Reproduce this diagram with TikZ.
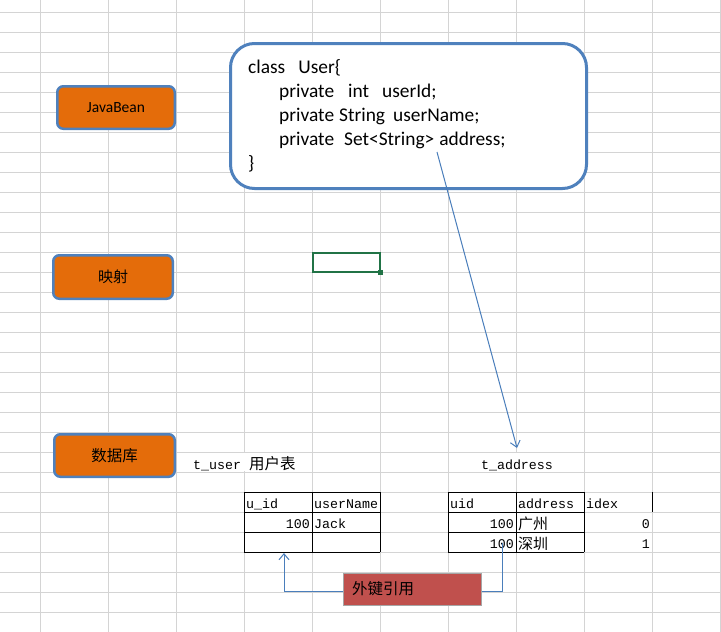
\documentclass[tikz,border=0pt]{standalone}
\usepackage{fontspec}
\setmainfont{Carlito}
\newfontfamily\cjk{Noto Sans CJK SC}
\newfontfamily\mono{Liberation Mono}
\usetikzlibrary{arrows.meta}
\definecolor{gridc}{HTML}{D4D4D4}
\definecolor{orng}{HTML}{E46C0A}
\definecolor{bblue}{HTML}{4F81BD}
\definecolor{lblue}{HTML}{4A7EBB}
\definecolor{redb}{HTML}{C0504D}
\definecolor{selg}{HTML}{217346}
\definecolor{fkgray}{HTML}{A6A6A6}
\begin{document}
\begin{tikzpicture}[x=1pt,y=-1pt,
  bean/.style={draw=bblue, line width=2.5pt, fill=orng, rounded corners=6pt, inner sep=0pt},
  classbox/.style={draw=bblue, line width=3pt, fill=white, rounded corners=24pt, inner sep=0pt, minimum width=356pt, minimum height=145pt},
  codeline/.style={anchor=base west, inner sep=0pt, font=\fontsize{19.4}{22}\selectfont},
  cell/.style={inner sep=0pt, font=\mono\fontsize{13.3}{15}\selectfont},
  cjkcell/.style={inner sep=0pt, font=\cjk\fontsize{15}{17}\selectfont},
  tbl/.style={black, line width=1pt},
  conn/.style={lblue, line width=1pt},
  tip/.style={-{Straight Barb[length=6pt,width=10pt,line width=1pt]}}
]
\useasboundingbox (0,0) rectangle (721,632);
\fill[white] (0,0) rectangle (721,632);
% spreadsheet grid
\foreach \y in {12,32,...,612} \draw[gridc,line width=1pt] (0,\y) -- (721,\y);
\foreach \x in {40,108,...,720} \draw[gridc,line width=1pt] (\x,0) -- (\x,632);
% grid lines hidden by overflowing label text
\draw[white,line width=1.6pt] (244,453) -- (244,471);
\draw[white,line width=1.6pt] (516,453) -- (516,471);

% selected cell
\draw[selg,line width=2pt] (313,253) rectangle (380,272);
\fill[selg] (377.5,269.5) rectangle (382.5,274.5);

% left boxes
\node[bean, minimum width=117.5pt, minimum height=42.5pt, font=\fontsize{15.5}{17}\selectfont] (jb) at (116,107.5) {JavaBean};
\node[bean, minimum width=119.5pt, minimum height=43.5pt, font=\cjk\fontsize{15}{17}\selectfont] (ys) at (113,277) {映射};
\node[bean, minimum width=120.5pt, minimum height=42.5pt, font=\cjk\fontsize{15.5}{17}\selectfont] (db) at (114.5,455.5) {数据库};

% class box
\node[classbox] (cls) at (408.5,116) {};
\node[codeline] (c1) at (248,73) {class\hspace{13pt}User\{};
\node[codeline] (c2) at (279,97) {private\hspace{14pt}int\hspace{13pt}userId;};
\node[codeline] (c3) at (279,121) {private\hspace{5pt}String\hspace{8pt}userName;};
\node[codeline] (c4) at (279,145) {private\hspace{10pt}Set<String>\hspace{5pt}address;};
\node[codeline] (c5) at (248,169) {\}};

% arrow from class to t_address
\coordinate (aS) at (437,152);
\coordinate (aE) at (517,448);
\draw[conn,tip] (aS) -- (aE);

% table labels
\node[anchor=base west, inner sep=0pt] (tu) at (193,469) {{\mono\fontsize{13.3}{15}\selectfont t\_user }{\cjk\fontsize{15.5}{17}\selectfont 用户表}};
\node[cell, anchor=base] (ta) at (517,469) {t\_address};

% t_user table
\draw[tbl] (244,492) -- (380,492) (244,512) -- (380,512) (244,532) -- (380,532) (244,552) -- (380,552);
\draw[tbl] (244,492) -- (244,552) (312,492) -- (312,552) (380,492) -- (380,552);
\node[cell, anchor=base west] (u1) at (246,508) {u\_id};
\node[cell, anchor=base west] (u2) at (314,508) {userName};
\node[cell, anchor=base east] (u3) at (310,528) {100};
\node[cell, anchor=base west] (u4) at (314,528) {Jack};

% t_address table
\draw[tbl] (448,492) -- (584,492) (448,512) -- (584,512) (448,532) -- (584,532) (448,552) -- (584,552);
\draw[tbl] (448,492) -- (448,552) (516,492) -- (516,552) (584,492) -- (584,552) (652,492) -- (652,512);
\node[cell, anchor=base west] (a1) at (450,508) {uid};
\node[cell, anchor=base west] (a2) at (518,508) {address};
\node[cell, anchor=base west] (a3) at (586,508) {idex};
\node[cell, anchor=base east] (a4) at (514,528) {100};
\node[cjkcell, anchor=base west] (a5) at (518,529.5) {广州};
\node[cell, anchor=base east] (a6) at (650,528) {0};
\node[cell, anchor=base east] (a7) at (514,548) {100};
\node[cjkcell, anchor=base west] (a8) at (518,549.5) {深圳};
\node[cell, anchor=base east] (a9) at (650,548) {1};

% foreign key connector
\coordinate (fkR) at (502,543);
\coordinate (fkL) at (284,553);
\draw[conn,tip] (fkR) -- (502,591.5) -| (fkL);
\node[draw=fkgray, line width=1pt, fill=redb, minimum width=138pt, minimum height=32pt, inner sep=0pt] (fk) at (412.5,589.5) {};
\node[anchor=base west, inner sep=0pt, font=\cjk\fontsize{15.5}{17}\selectfont] (fkt) at (352,594) {外键引用};
\end{tikzpicture}
\end{document}
